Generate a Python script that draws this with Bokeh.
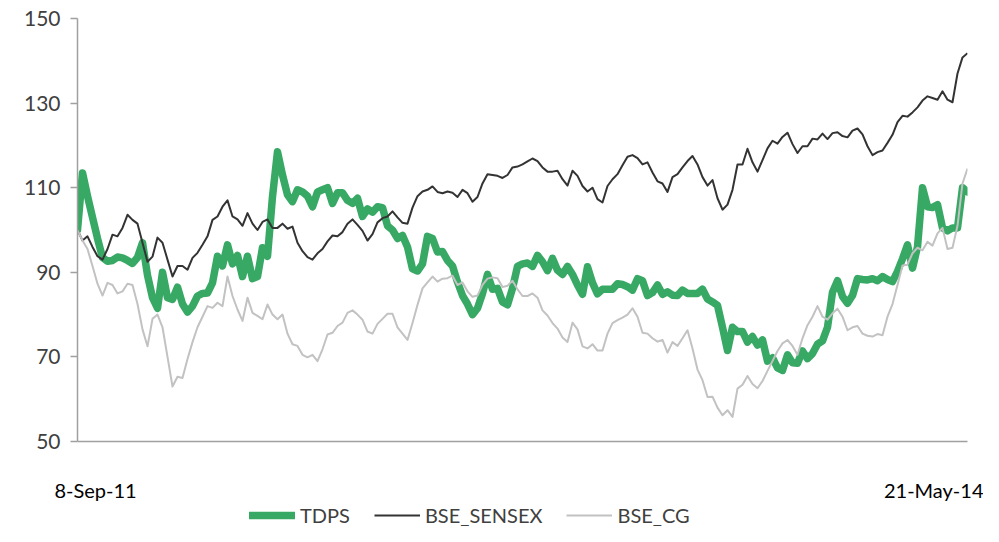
import numpy as np
from datetime import date
from bokeh.plotting import figure
from bokeh.layouts import column
from bokeh.models import Range1d, FixedTicker, Legend, LegendItem
from bokeh.embed import file_html
from bokeh.resources import INLINE

start_label = "8-Sep-11"
end_label = "21-May-14"
start_date = date(2011, 9, 8)
end_date = date(2014, 5, 21)
y_ticks = [50, 70, 90, 110, 130, 150]
series_names = ["TDPS", "BSE_SENSEX", "BSE_CG"]
series_colors = ["#38a865", "#333333", "#c2c2c2"]
series_widths = [7.5, 2, 2]

tdps = [100, 113.5, 108, 103, 98, 93.5, 92.6, 92.8, 93.6, 93.4,
        92.8, 92.1, 93.5, 97, 89.3, 84, 81.5, 90, 84, 83.6,
        86.5, 82.5, 80.6, 82, 84.4, 85, 85.1, 87.5, 93.8, 91.5,
        96.5, 92, 94, 89, 93.8, 88.5, 89, 95.8, 93.8, 107.9,
        118.5, 113, 108.3, 106.7, 109.5, 109, 108, 105.5, 109, 109.5,
        110, 106.3, 108.8, 108.8, 107, 106.3, 107.5, 103.2, 105, 104.2,
        105.5, 105.3, 101, 100, 98, 98.7, 96, 90.8, 90.3, 92,
        98.5, 98, 94.8, 94.9, 92.8, 91.5, 87.7, 84.5, 82.5, 80,
        81.5, 85, 89.5, 86, 86.2, 83, 82.3, 86.2, 91.4, 92,
        92.2, 91.4, 94, 92.5, 90.4, 93.3, 90.5, 89.5, 91.4, 89.5,
        87, 84.8, 91.3, 87.5, 84.9, 86, 86, 86, 87.3, 87.1,
        86.6, 85.8, 88.5, 88, 84.5, 85.2, 87, 84.8, 85.4, 84.6,
        84.5, 85.8, 85, 85, 85, 86, 83.7, 83, 82.2, 77,
        71.5, 77, 76, 76, 73.5, 74.8, 72.8, 74, 69, 69.8,
        67.4, 66.8, 70.5, 68.6, 68.5, 71.4, 69.6, 70.8, 73, 73.8,
        77, 85.3, 88, 84.3, 82.7, 84.5, 88.5, 88.3, 88.2, 88.5,
        88, 89, 88.3, 87.8, 90.2, 93.2, 96.5, 91, 96, 110,
        105.5, 105.3, 106, 100.5, 99.8, 100.5, 100.5, 110, 109]

bse_sensex = [100, 97.5, 98.5, 96, 93.8, 93, 95.5, 98.9, 98.5, 100.5,
              103.6, 102.4, 101.5, 97, 92.5, 93.7, 98.2, 97, 93, 89,
              91.5, 91.5, 90.6, 93.4, 94.6, 96.5, 98.5, 102.4, 103.2, 105.5,
              107, 103.2, 102.5, 101, 104, 101.5, 100, 101.9, 102.5, 100.5,
              100.5, 101.5, 100.3, 100.8, 97, 95, 93.6, 93, 94.5, 95.5,
              97.3, 98.7, 98.5, 99.5, 101.5, 102.5, 101.2, 99.8, 97.5, 99,
              101.8, 102.8, 103.2, 104.4, 103, 101.7, 101.5, 105.3, 108, 109.1,
              109.5, 110.3, 109, 108.7, 109.1, 108.8, 107.8, 109.5, 108.7, 106.7,
              107.8, 111, 113.2, 113, 112.8, 112.3, 113, 114.8, 115, 115.5,
              116.2, 116.9, 116.3, 114.8, 113.8, 113.8, 114, 112, 110.5, 114,
              112.8, 110.4, 109.1, 110, 107.3, 106.5, 110.4, 112, 113.2, 115.3,
              117.3, 117.7, 117, 115.5, 116, 113.6, 111.5, 111, 109, 112.5,
              113.2, 114.8, 116.3, 117.5, 115.5, 112.5, 110.5, 111.8, 107.5, 104.8,
              106, 109.5, 115.5, 115.5, 119.2, 116, 113.8, 116.5, 119.3, 121.1,
              120.4, 122, 123, 120.3, 118.2, 119.8, 119.8, 121.6, 121.4, 122.8,
              121.5, 122.9, 123.1, 122.2, 121.9, 123.5, 124, 122.6, 119.8, 117.7,
              118.4, 118.8, 120.6, 122.5, 125.5, 127, 126.8, 127.8, 129, 130.6,
              131.6, 131.2, 130.8, 132.8, 130.8, 130.2, 137, 140.8, 141.8]

bse_cg = [100, 97.5, 95.5, 91.5, 87.3, 84.5, 87.5, 87, 85, 85.5,
          87.3, 87, 82.5, 76.5, 72.5, 79, 80, 77, 70, 63,
          65.3, 65, 69.5, 73.5, 77, 79.5, 82, 81.6, 82.8, 82,
          89, 84.4, 81.2, 78.5, 84, 80.4, 79.7, 78.9, 82.4, 80,
          78.9, 80, 75.5, 73, 72.6, 70.5, 69.9, 70.5, 69, 71.8,
          75.3, 75.7, 77.3, 78.1, 80.4, 81, 80, 78.8, 76, 75.5,
          77.8, 79, 80.2, 80.2, 77, 75.5, 74, 78, 82.3, 86.2,
          87.6, 89, 87.8, 88.5, 88.6, 89.2, 87, 87.6, 85.5, 84.2,
          84.5, 87, 88.5, 88.8, 88.6, 86.5, 86.8, 88, 86, 84.4,
          84.4, 85, 84, 81, 79.8, 78, 76.7, 74.6, 73.5, 78.1,
          76.5, 72.5, 72, 73, 71.5, 71.5, 75.5, 78, 78.7, 79.3,
          80, 81.5, 79.5, 75.7, 75.5, 74.4, 73.6, 74, 71, 73.5,
          72.6, 74.4, 76.3, 72, 67, 64.5, 60.5, 60.6, 58, 56.2,
          57.4, 55.8, 62.5, 63.4, 65.5, 63.6, 62.6, 64.3, 66.7, 69,
          71.4, 73.2, 74, 72.6, 70.5, 74.4, 77.5, 79.5, 82, 79.5,
          78.8, 80.3, 81.4, 79.5, 76.3, 77, 77.3, 75.5, 75, 74.8,
          75.4, 75.1, 79.5, 82.5, 87, 91.6, 91.8, 94.5, 95.8, 95.2,
          97.2, 96.3, 99.2, 100.5, 95.5, 95.8, 101, 111, 114.5]

total_days = (end_date - start_date).days
days = np.linspace(0, total_days, len(tdps))
series = [tdps, bse_sensex, bse_cg]

FONT = "Lato"
AXIS_COLOR = "#a0a0a0"
W = 983
H_MAIN, H_LEG = 504, 22
BL, BR, BT, BB = 77, 16, 18, 61
frame_w = W - BL - BR
px_per_day = frame_w / total_days

p = figure(width=W, height=H_MAIN, output_backend="svg", toolbar_location=None,
           x_range=Range1d(0, total_days), y_range=Range1d(y_ticks[0], y_ticks[-1]),
           min_border_left=BL, min_border_right=BR, min_border_top=BT,
           min_border_bottom=BB)
p.outline_line_color = None
p.xgrid.visible = False
p.ygrid.visible = False
p.background_fill_color = "white"
p.border_fill_color = "white"

for vals, col, lw in zip(series, series_colors, series_widths):
    p.line(days, vals, line_color=col, line_width=lw,
           line_join="round", line_cap="round" if lw > 3 else "butt")

p.yaxis.ticker = FixedTicker(ticks=y_ticks)
p.yaxis.major_tick_out = 7
p.yaxis.major_tick_in = 0
p.yaxis.minor_tick_out = 0
p.yaxis.minor_tick_in = 0
p.yaxis.axis_line_color = AXIS_COLOR
p.yaxis.axis_line_width = 1.5
p.yaxis.major_tick_line_color = AXIS_COLOR
p.yaxis.major_tick_line_width = 1.5
p.yaxis.major_label_text_font = FONT
p.yaxis.major_label_text_font_size = "21px"
p.yaxis.major_label_text_color = "#404040"
p.yaxis.major_label_standoff = 10

# Excel draws the two date labels slightly inside the axis ends
x_label_pos = [days[0] + 18 / px_per_day, days[-1] - 33 / px_per_day]
p.xaxis.ticker = FixedTicker(ticks=x_label_pos)
p.xaxis.major_label_overrides = {x_label_pos[0]: start_label,
                                 x_label_pos[1]: end_label}
p.xaxis.major_tick_out = 0
p.xaxis.major_tick_in = 0
p.xaxis.minor_tick_out = 0
p.xaxis.minor_tick_in = 0
p.xaxis.axis_line_color = AXIS_COLOR
p.xaxis.axis_line_width = 1.5
p.xaxis.major_label_text_font = FONT
p.xaxis.major_label_text_font_size = "20px"
p.xaxis.major_label_text_color = "#000000"
p.xaxis.major_label_standoff = 36

# legend strip below the chart (series drawn out of its view, only the
# legend swatches show)
lg = figure(width=W, height=H_LEG, output_backend="svg", toolbar_location=None,
            x_range=Range1d(0, 1), y_range=Range1d(0, 1),
            x_axis_location=None, y_axis_location=None,
            min_border_left=0, min_border_right=0, min_border_top=0,
            min_border_bottom=0)
lg.outline_line_color = None
lg.xgrid.visible = False
lg.ygrid.visible = False
lg.background_fill_color = "white"
lg.border_fill_color = "white"
items = []
for name, vals, col, lw in zip(series_names, series, series_colors, series_widths):
    r = lg.line(days, vals, line_color=col, line_width=lw,
                line_cap="round" if lw > 3 else "butt")
    items.append(LegendItem(label=name, renderers=[r]))
legend = Legend(items=items, orientation="horizontal", location=(172, -1),
                glyph_width=46, glyph_height=18, label_height=18,
                label_standoff=5, spacing=24, padding=0, margin=0,
                border_line_alpha=0, background_fill_alpha=0,
                label_text_font=FONT, label_text_font_size="20px",
                label_text_color="#404040")
lg.add_layout(legend)

layout = column(p, lg, spacing=0)
open("out.html", "w").write(file_html(layout, INLINE))
